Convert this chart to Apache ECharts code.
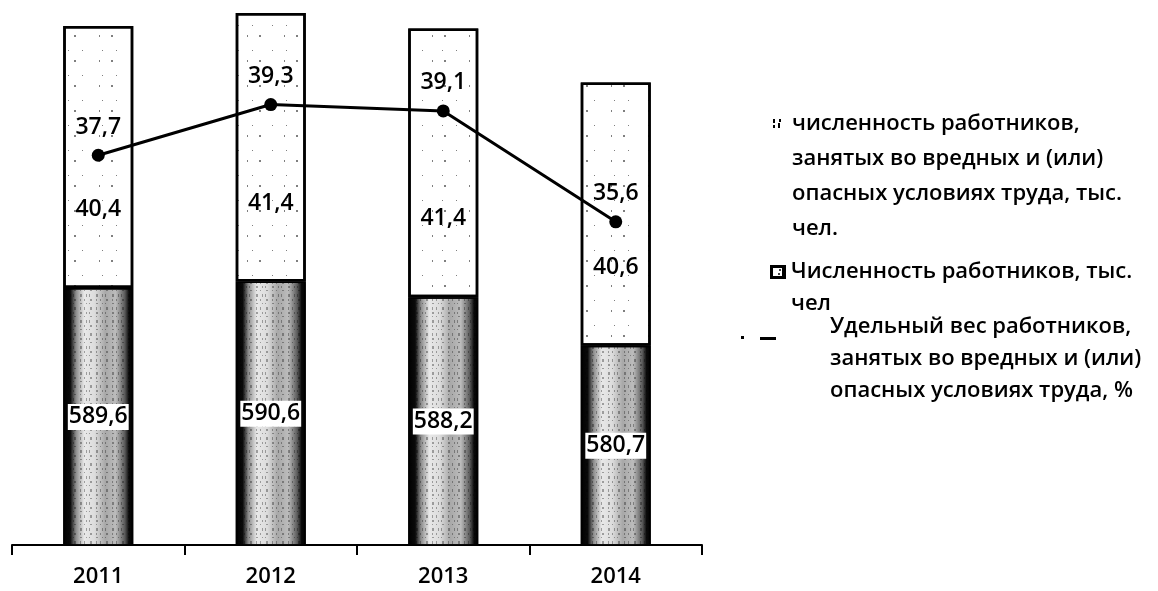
<!DOCTYPE html>
<html>
<head>
<meta charset="utf-8">
<script src="https://cdn.jsdelivr.net/npm/echarts@6/dist/echarts.min.js"></script>
<style>
html,body{margin:0;padding:0;background:#fff;}
#chart{width:1158px;height:591px;}
</style>
</head>
<body>
<div id="chart"></div>
<script>
// ---- data ----
const categories = ['2011', '2012', '2013', '2014'];
const totalWorkers = [589.6, 590.6, 588.2, 580.7];          // Численность работников, тыс. чел
const hazardWorkers = [40.4, 41.4, 41.4, 40.6];             // численность ... во вредных условиях (as labelled)
const sharePercent = [37.7, 39.3, 39.1, 35.6];              // Удельный вес, %

const nameHazard = 'численность работников,\nзанятых во вредных и (или)\nопасных условиях труда, тыс.\nчел.';
const nameTotal = 'Численность работников, тыс.\nчел';
const nameShare = 'Удельный вес работников,\nзанятых во вредных и (или)\nопасных условиях труда, %';

const FONT = 'Open Sans';
const fmt = v => String(v).replace('.', ',');
// keep the first text line level with the legend icon
const topAlign = name => '\n'.repeat(name.split('\n').length - 1) + name;

// ---- legend icons drawn on small canvases ----
function makeIcon(w, h, draw) {
  const c = document.createElement('canvas');
  c.width = w; c.height = h;
  const ctx = c.getContext('2d');
  draw(ctx);
  return 'image://' + c.toDataURL();
}
const iconHazard = makeIcon(15, 12, ctx => {
  ctx.fillStyle = '#000';
  ctx.fillRect(1, 1, 2, 4); ctx.fillRect(1, 7, 2, 3);
  ctx.fillRect(7, 1, 2, 3); ctx.fillRect(6, 5, 2, 5);
});
const iconTotal = makeIcon(16, 14, ctx => {
  ctx.fillStyle = '#000';
  ctx.fillRect(0, 0, 16, 14);
  ctx.fillStyle = '#fff';
  ctx.fillRect(3, 3, 9, 8);
  ctx.fillStyle = '#444';
  ctx.fillRect(9, 4, 2, 2); ctx.fillRect(8, 8, 2, 2);
});
const iconShare = makeIcon(87, 30, ctx => {
  ctx.fillStyle = '#000';
  ctx.fillRect(3, 24, 3, 3);
  ctx.fillRect(22, 25, 16, 3);
});

const chart = echarts.init(document.getElementById('chart'), null, {renderer: 'canvas'});

const legendText = (lh) => ({
  fontFamily: FONT, fontSize: 22, fontWeight: 600, color: '#000', lineHeight: lh
});

const option = {
  backgroundColor: '#fff',
  animation: false,
  grid: { left: 12, right: 456, top: 0, bottom: 46, containLabel: false },
  legend: [
    {
      data: [nameHazard], left: 772, top: 124 - 3.5 * 35, padding: 0,
      itemWidth: 15, itemHeight: 12, icon: iconHazard,
      formatter: topAlign,
      textStyle: legendText(35)
    },
    {
      data: [nameTotal], left: 770, top: 272 - 1.5 * 32, padding: 0,
      itemWidth: 16, itemHeight: 14, icon: iconTotal,
      formatter: topAlign,
      textStyle: legendText(32)
    },
    {
      data: [nameShare], left: 738, top: 327 - 2.5 * 32, padding: 0,
      itemWidth: 87, itemHeight: 30, icon: iconShare,
      formatter: topAlign,
      textStyle: legendText(32)
    }
  ],
  xAxis: {
    type: 'category',
    data: categories,
    axisLine: { lineStyle: { color: '#000', width: 2 } },
    axisTick: { show: true, length: 10, lineStyle: { color: '#000', width: 2 } },
    axisLabel: { margin: 21, fontFamily: FONT, fontSize: 22, fontWeight: 600, color: '#000' }
  },
  yAxis: [
    { type: 'value', min: 550, max: 634, show: false, splitLine: { show: false } },
    { type: 'value', min: 25.4, max: 42.6, show: false, splitLine: { show: false } }
  ],
  series: [
    {
      name: nameTotal,
      type: 'bar',
      stack: 'workers',
      barWidth: 70,
      data: totalWorkers,
      itemStyle: {
        color: {
          type: 'linear', x: 0, y: 0, x2: 1, y2: 0,
          colorStops: [
            { offset: 0, color: '#000' },
            { offset: 0.1, color: '#0a0a0a' },
            { offset: 0.18, color: '#8a8a8a' },
            { offset: 0.3, color: '#e8e8e8' },
            { offset: 0.45, color: '#dcdcdc' },
            { offset: 0.6, color: '#a8a8a8' },
            { offset: 0.75, color: '#bcbcbc' },
            { offset: 0.88, color: '#5a5a5a' },
            { offset: 0.94, color: '#0a0a0a' },
            { offset: 1, color: '#000' }
          ]
        },
        borderColor: '#000',
        borderWidth: 1.5,
        decal: {
          symbol: 'rect', symbolSize: 1, color: 'rgba(0,0,0,0.32)',
          dashArrayX: [[1, 3, 1, 5, 2, 4], [2, 4, 1, 2, 1, 6]],
          dashArrayY: [2, 2, 1, 3, 3, 2]
        }
      },
      label: {
        show: true, position: 'inside',
        formatter: p => fmt(p.value),
        fontFamily: FONT, fontSize: 23, fontWeight: 600, color: '#000',
        backgroundColor: '#fff', padding: [0, 1], lineHeight: 26
      }
    },
    {
      name: nameHazard,
      type: 'bar',
      stack: 'workers',
      barWidth: 70,
      data: hazardWorkers,
      itemStyle: {
        color: '#fff',
        borderColor: '#000',
        borderWidth: 2.5,
        decal: {
          symbol: 'rect', symbolSize: 1, color: 'rgba(0,0,0,0.5)',
          dashArrayX: [[1, 13, 1, 19], [2, 23, 1, 11]],
          dashArrayY: [1, 9, 2, 13]
        }
      },
      label: {
        show: true, position: 'insideBottom', distance: 67,
        formatter: p => fmt(p.value),
        fontFamily: FONT, fontSize: 23, fontWeight: 600, color: '#000'
      }
    },
    {
      name: nameShare,
      type: 'line',
      yAxisIndex: 1,
      data: sharePercent,
      symbol: 'circle',
      symbolSize: 13,
      lineStyle: { color: '#000', width: 3 },
      itemStyle: { color: '#000' },
      z: 5,
      label: {
        show: true, position: 'top', distance: 10,
        formatter: p => fmt(p.value),
        fontFamily: FONT, fontSize: 23, fontWeight: 600, color: '#000'
      }
    }
  ]
};
chart.setOption(option);
</script>
</body>
</html>
